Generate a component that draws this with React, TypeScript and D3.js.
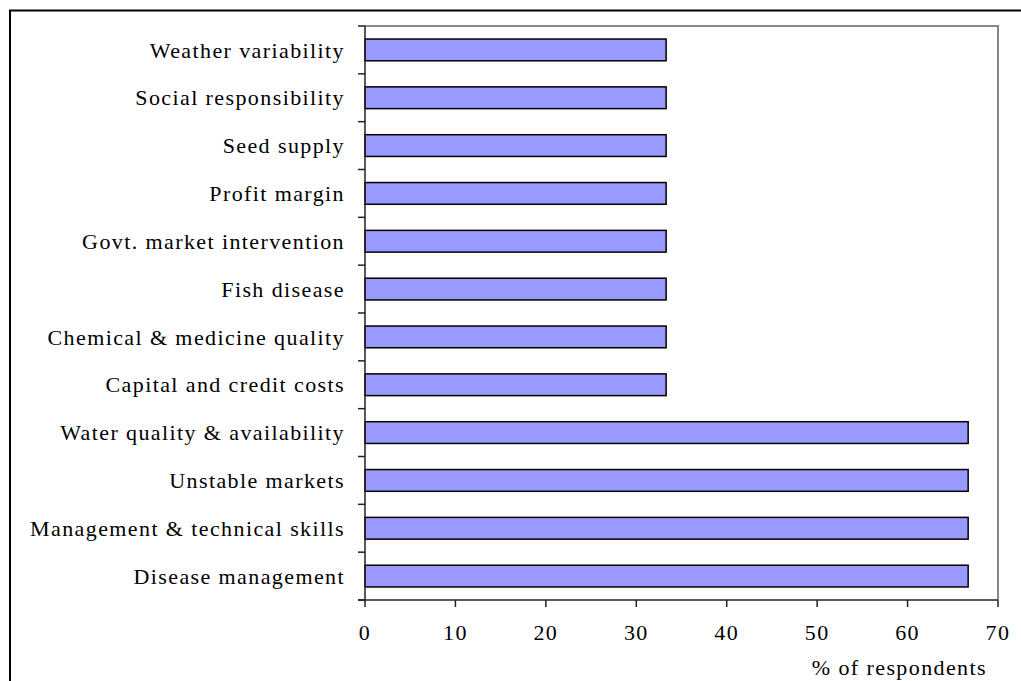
import React from "react";
import * as d3 from "d3";

const categories = [
  "Weather variability",
  "Social responsibility",
  "Seed supply",
  "Profit margin",
  "Govt. market intervention",
  "Fish disease",
  "Chemical & medicine quality",
  "Capital and credit costs",
  "Water quality & availability",
  "Unstable markets",
  "Management & technical skills",
  "Disease management",
];
const values = [33.3, 33.3, 33.3, 33.3, 33.3, 33.3, 33.3, 33.3, 66.7, 66.7, 66.7, 66.7];
const xTicks = [0, 10, 20, 30, 40, 50, 60, 70];
const xTitle = "% of respondents";

const W = 1021;
const H = 681;
const left = 365;
const right = 998;
const top = 26;
const bottom = 600;
const font = "'Liberation Serif', 'Times New Roman', serif";
const fs = 22;
const ls = 1.4;

export default function App() {
  const x = d3.scaleLinear().domain([0, 70]).range([left, right]);
  const y = d3
    .scaleBand<string>()
    .domain(categories)
    .range([top, bottom])
    .paddingInner(1.2 / 2.2)
    .paddingOuter(0.6 / 2.2);
  const bandStep = (bottom - top) / categories.length;
  const boundaries = d3.range(categories.length + 1).map((i) => top + i * bandStep);

  return (
    <svg
      width={W}
      height={H}
      style={{ position: "absolute", left: 0, top: 0, background: "#fff" }}
    >
      <rect x={0} y={0} width={W} height={H} fill="#fff" />
      {/* outer frame */}
      <rect x={10} y={10.5} width={W + 20} height={H + 20} fill="none" stroke="#000" strokeWidth={2} />
      {/* plot area border */}
      <path
        d={`M${left},${top}H${right}V${bottom}`}
        fill="none"
        stroke="#888"
        strokeWidth={2}
      />
      {/* bars */}
      {categories.map((c, i) => (
        <rect
          key={c}
          x={x(0)}
          y={y(c)!}
          width={x(values[i]) - x(0)}
          height={y.bandwidth()}
          fill="#9999FF"
          stroke="#000"
          strokeWidth={1.5}
        />
      ))}
      {/* y axis */}
      <line x1={left} x2={left} y1={top} y2={bottom} stroke="#222" strokeWidth={1.5} />
      {boundaries.map((b, i) => (
        <line key={i} x1={left - 7} x2={left} y1={b} y2={b} stroke="#222" strokeWidth={1.5} />
      ))}
      {categories.map((c) => (
        <text
          key={c}
          x={left - 20}
          y={y(c)! + y.bandwidth() / 2}
          dy="0.35em"
          textAnchor="end"
          fontFamily={font}
          fontSize={fs}
          letterSpacing={ls}
          fill="#000"
        >
          {c}
        </text>
      ))}
      {/* x axis */}
      <line x1={left - 7} x2={right} y1={bottom} y2={bottom} stroke="#222" strokeWidth={1.5} />
      {xTicks.map((t) => (
        <g key={t}>
          <line x1={x(t)} x2={x(t)} y1={bottom} y2={bottom + 7} stroke="#222" strokeWidth={1.5} />
          <text
            x={x(t)}
            y={bottom + 32}
            dy="0.35em"
            textAnchor="middle"
            fontFamily={font}
            fontSize={fs}
            letterSpacing={ls}
            fill="#000"
          >
            {t}
          </text>
        </g>
      ))}
      <text
        x={987}
        y={667}
        dy="0.35em"
        textAnchor="end"
        fontFamily={font}
        fontSize={fs}
        letterSpacing={ls}
        fill="#000"
      >
        {xTitle}
      </text>
    </svg>
  );
}
